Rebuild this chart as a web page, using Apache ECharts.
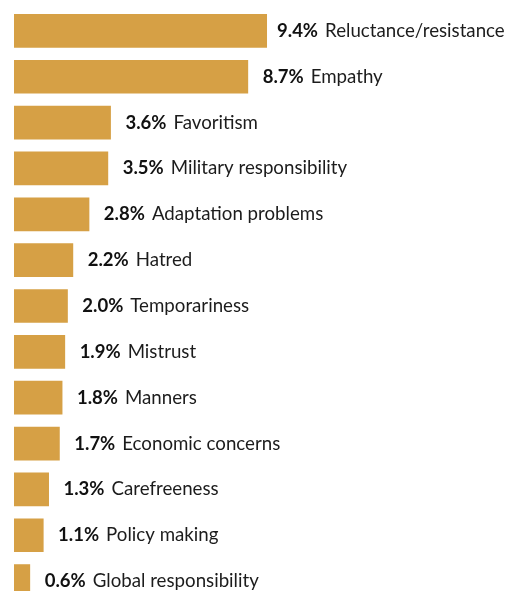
<!DOCTYPE html>
<html><head><meta charset="utf-8">
<script src="https://cdn.jsdelivr.net/npm/echarts@6/dist/echarts.min.js"></script>
<style>html,body{margin:0;padding:0;background:#fff;overflow:hidden;width:505px;height:591px}#c{width:505px;height:604px}</style>
</head><body><div id="c"></div>
<script>
const categories = ["Reluctance/resistance","Empathy","Favoritism","Military responsibility","Adaptation problems","Hatred","Temporariness","Mistrust","Manners","Economic concerns","Carefreeness","Policy making","Global responsibility"];
const values = [9.4, 8.7, 3.6, 3.5, 2.8, 2.2, 2.0, 1.9, 1.8, 1.7, 1.3, 1.1, 0.6];

const seriesData = values.map((v, i) => i === 0 ? {value: v, label: {distance: 10}} : v);

const chart = echarts.init(document.getElementById('c'), null, {renderer:'canvas'});
chart.setOption({
  animation: false,
  grid: {left: 14, right: 6.5, top: 8, bottom: 0, containLabel: false},
  xAxis: {type: 'value', min: 0, max: 18, show: false},
  yAxis: {type: 'category', data: categories, inverse: true, show: false},
  series: [{
    type: 'bar',
    data: seriesData,
    barCategoryGap: '26.5%',
    itemStyle: {color: '#D6A045'},
    label: {
      show: true, position: 'right', distance: 14.5,
      formatter: p => '{b|' + p.value.toFixed(1) + '%}{n|' + p.name + '}',
      rich: {
        b: {fontFamily: 'Lato', fontWeight: 'bold', fontSize: 18.5, color: '#111'},
        n: {fontFamily: 'Lato', fontSize: 18.7, color: '#1c1c1c', padding: [0, 0, 0, 7]}
      }
    }
  }]
});
</script></body></html>
